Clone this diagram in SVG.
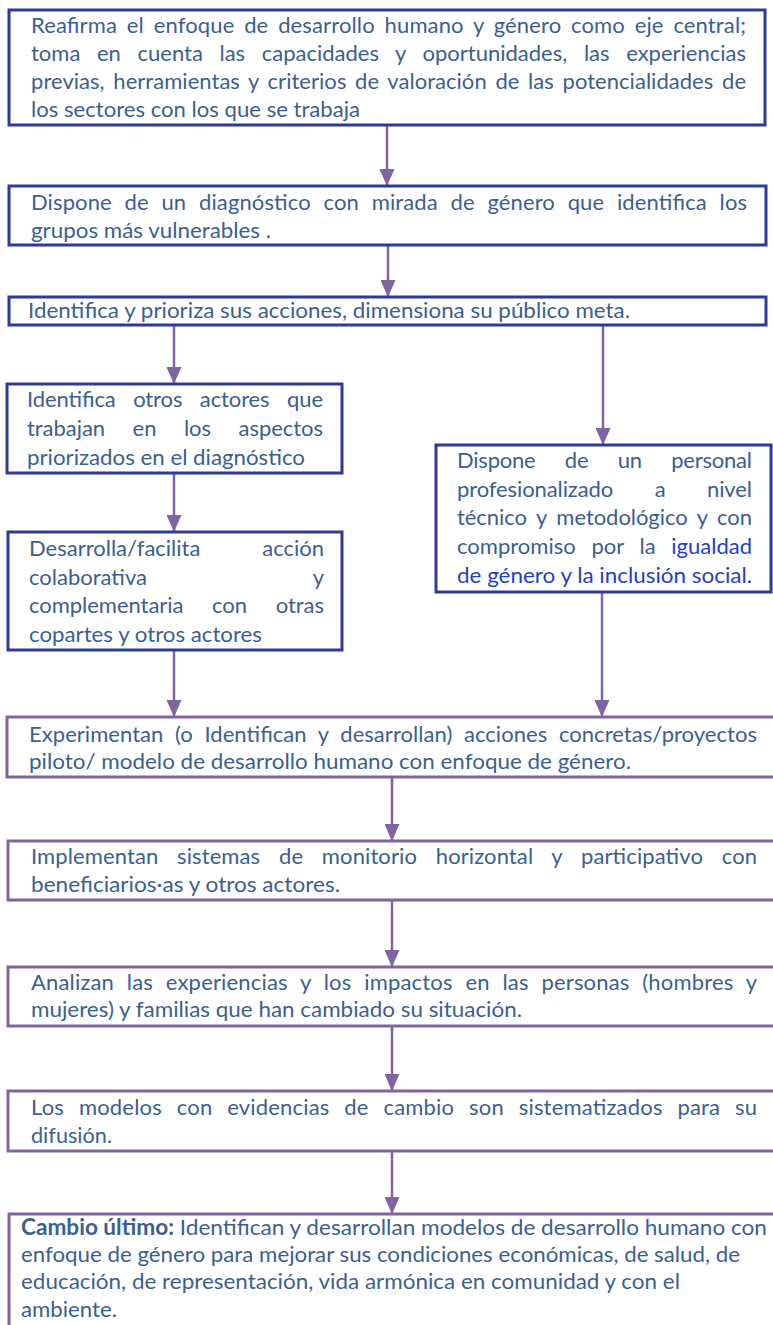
<svg xmlns="http://www.w3.org/2000/svg" width="773" height="1325" viewBox="0 0 773 1325">
<style>
.t{font-family:Lato,"Liberation Sans",sans-serif;font-size:22px;fill:#3A6091}
.e{text-anchor:end}
.b{font-weight:bold}
.hl{fill:#1F40CC}
.nb{fill:#fff;stroke:#2E3B96;stroke-width:3}
.np{fill:#fff;stroke:#8064A2;stroke-width:3}
.c{stroke:#8064A2;stroke-width:2.5;fill:none;marker-end:url(#ah)}
</style>
<defs>
<marker id="ah" markerUnits="userSpaceOnUse" markerWidth="17" markerHeight="15" refX="17" refY="7.5" orient="auto" viewBox="0 0 17 15"><path d="M0,0 L17,7.5 L0,15 z" fill="#8064A2"/></marker>
</defs>
<rect width="773" height="1325" fill="#fff"/>
<g id="connectors">
<line class="c" x1="387" y1="125" x2="387" y2="186"/>
<line class="c" x1="388" y1="245" x2="388" y2="297"/>
<line class="c" x1="174" y1="325" x2="174" y2="384"/>
<line class="c" x1="603" y1="325" x2="603" y2="445"/>
<line class="c" x1="174" y1="473" x2="174" y2="532"/>
<line class="c" x1="174" y1="650" x2="174" y2="717"/>
<line class="c" x1="602" y1="592" x2="602" y2="717"/>
<line class="c" x1="392" y1="777" x2="392" y2="841"/>
<line class="c" x1="392" y1="900" x2="392" y2="967"/>
<line class="c" x1="392" y1="1026" x2="392" y2="1091"/>
<line class="c" x1="392" y1="1151" x2="392" y2="1214"/>
</g>
<g id="n1">
<rect class="nb" x="9" y="10" width="756" height="115"/>
<text class="t" x="31" y="33" textLength="715" lengthAdjust="spacing" style="word-spacing:4px">Reafirma el enfoque de desarrollo humano y género como eje central;</text>
<text class="t" x="31" y="61" textLength="715" lengthAdjust="spacing" style="word-spacing:11px">toma en cuenta las capacidades y oportunidades, las experiencias</text>
<text class="t" x="31" y="89" textLength="715" lengthAdjust="spacing" style="word-spacing:3px">previas, herramientas y criterios de valoración de las potencialidades de</text>
<text class="t" x="31" y="117" textLength="329" lengthAdjust="spacingAndGlyphs">los sectores con los que se trabaja</text>
</g>
<g id="n2">
<rect class="nb" x="9" y="186" width="757" height="59"/>
<text class="t" x="31" y="210" textLength="716" lengthAdjust="spacing" style="word-spacing:7px">Dispone de un diagnóstico con mirada de género que identifica los</text>
<text class="t" x="31" y="238" textLength="240" lengthAdjust="spacingAndGlyphs">grupos más vulnerables .</text>
</g>
<g id="n3">
<rect class="nb" x="9" y="297" width="757" height="28"/>
<text class="t" x="28" y="318" textLength="602" lengthAdjust="spacingAndGlyphs">Identifica y prioriza sus acciones, dimensiona su público meta.</text>
</g>
<g id="n4">
<rect class="nb" x="7" y="384" width="335" height="89"/>
<text class="t" x="27" y="407" textLength="296" lengthAdjust="spacing" style="word-spacing:12px">Identifica otros actores que</text>
<text class="t" x="27" y="436" textLength="296" lengthAdjust="spacing" style="word-spacing:22px">trabajan en los aspectos</text>
<text class="t" x="27" y="465" textLength="278" lengthAdjust="spacingAndGlyphs">priorizados en el diagnóstico</text>
</g>
<g id="n5">
<rect class="nb" x="8" y="532" width="334" height="118"/>
<text class="t" x="29" y="556">Desarrolla/facilita</text><text class="t e" x="324" y="556">acción</text>
<text class="t" x="29" y="585">colaborativa</text><text class="t e" x="324" y="585">y</text>
<text class="t" x="29" y="613" textLength="295" lengthAdjust="spacing" style="word-spacing:23px">complementaria con otras</text>
<text class="t" x="29" y="642" textLength="233" lengthAdjust="spacingAndGlyphs">copartes y otros actores</text>
</g>
<g id="n6">
<rect class="nb" x="436" y="445" width="335" height="147"/>
<text class="t" x="457" y="468" textLength="295" lengthAdjust="spacing" style="word-spacing:24px">Dispone de un personal</text>
<text class="t" x="457" y="497" textLength="295" lengthAdjust="spacing" style="word-spacing:36px">profesionalizado a nivel</text>
<text class="t" x="457" y="525" textLength="295" lengthAdjust="spacing" style="word-spacing:4px">técnico y metodológico y con</text>
<text class="t" x="457" y="554" textLength="295" lengthAdjust="spacing" style="word-spacing:10px">compromiso por la <tspan class="hl">igualdad</tspan></text>
<text class="t hl" x="457" y="583" textLength="295" lengthAdjust="spacingAndGlyphs">de género y la inclusión social.</text>
</g>
<g id="n7">
<rect class="np" x="7" y="717" width="790" height="60"/>
<text class="t" x="29" y="742" textLength="728" lengthAdjust="spacing" style="word-spacing:6px">Experimentan (o Identifican y desarrollan) acciones concretas/proyectos</text>
<text class="t" x="29" y="769" textLength="602" lengthAdjust="spacingAndGlyphs">piloto/ modelo de desarrollo humano con enfoque de género.</text>
</g>
<g id="n8">
<rect class="np" x="8" y="841" width="790" height="59"/>
<text class="t" x="31" y="864" textLength="726" lengthAdjust="spacing" style="word-spacing:13px">Implementan sistemas de monitorio horizontal y participativo con</text>
<text class="t" x="31" y="892" textLength="309" lengthAdjust="spacingAndGlyphs">beneficiarios·as y otros actores.</text>
</g>
<g id="n9">
<rect class="np" x="8" y="967" width="790" height="59"/>
<text class="t" x="31" y="990" textLength="726" lengthAdjust="spacing" style="word-spacing:7px">Analizan las experiencias y los impactos en las personas (hombres y</text>
<text class="t" x="31" y="1017" textLength="491" lengthAdjust="spacingAndGlyphs">mujeres) y familias que han cambiado su situación.</text>
</g>
<g id="n10">
<rect class="np" x="8" y="1091" width="790" height="60"/>
<text class="t" x="31" y="1115" textLength="726" lengthAdjust="spacing" style="word-spacing:9px">Los modelos con evidencias de cambio son sistematizados para su</text>
<text class="t" x="31" y="1143" textLength="81" lengthAdjust="spacingAndGlyphs">difusión.</text>
</g>
<g id="n11">
<rect class="np" x="9" y="1214" width="790" height="140"/>
<text class="t" x="21" y="1235" textLength="746" lengthAdjust="spacingAndGlyphs"><tspan class="b">Cambio último:</tspan> Identifican y desarrollan modelos de desarrollo humano con</text>
<text class="t" x="21" y="1262" textLength="719" lengthAdjust="spacingAndGlyphs">enfoque de género para mejorar sus condiciones económicas, de salud, de</text>
<text class="t" x="21" y="1289" textLength="659" lengthAdjust="spacingAndGlyphs">educación, de representación, vida armónica en comunidad y con el</text>
<text class="t" x="21" y="1317" textLength="96" lengthAdjust="spacingAndGlyphs">ambiente.</text>
</g>
</svg>
